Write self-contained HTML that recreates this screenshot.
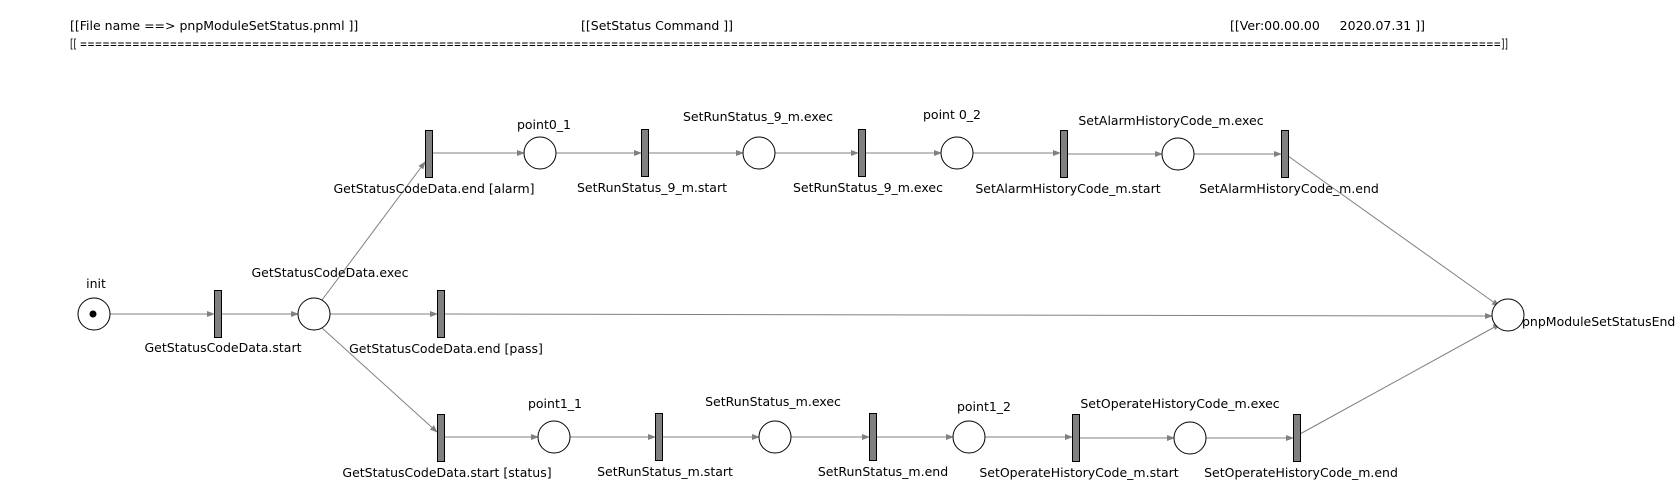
<!DOCTYPE html>
<html><head><meta charset="utf-8"><style>
html,body{margin:0;padding:0;background:#fff;}
svg{display:block;}
text{font-family:"DejaVu Sans","Liberation Sans",sans-serif;font-size:12.5px;fill:#000;}
</style></head><body>
<svg width="1680" height="488" viewBox="0 0 1680 488" xmlns="http://www.w3.org/2000/svg">
<defs><marker id="a" markerWidth="8" markerHeight="6" refX="7" refY="3" orient="auto" markerUnits="userSpaceOnUse"><path d="M0,0 L8,3 L0,6 z" fill="#808080"/></marker></defs>
<text x="70" y="30">[[File name ==&gt; pnpModuleSetStatus.pnml ]]</text>
<text x="581" y="30">[[SetStatus Command ]]</text>
<text x="1230" y="30" xml:space="preserve">[[Ver:00.00.00     2020.07.31 ]]</text>
<text x="70" y="48" textLength="1438" lengthAdjust="spacingAndGlyphs">[[ ==============================================================================================================================================================================================]]</text>
<g stroke="#808080" stroke-width="1" fill="none" marker-end="url(#a)">
<line x1="110" y1="314" x2="214" y2="314"/>
<line x1="221" y1="314" x2="298" y2="314"/>
<line x1="330" y1="314" x2="437" y2="314"/>
<line x1="444" y1="314" x2="1492" y2="316"/>
<line x1="322" y1="300" x2="425" y2="162"/>
<line x1="322" y1="328" x2="437" y2="432"/>
<line x1="432" y1="153" x2="524" y2="153"/>
<line x1="556" y1="153" x2="641" y2="153"/>
<line x1="648" y1="153" x2="743" y2="153"/>
<line x1="775" y1="153" x2="858" y2="153"/>
<line x1="865" y1="153" x2="941" y2="153"/>
<line x1="973" y1="153" x2="1060" y2="153"/>
<line x1="1067" y1="154" x2="1162" y2="154"/>
<line x1="1194" y1="154" x2="1281" y2="154"/>
<line x1="1288" y1="156" x2="1499" y2="306"/>
<line x1="444" y1="437" x2="538" y2="437"/>
<line x1="570" y1="437" x2="655" y2="437"/>
<line x1="662" y1="437" x2="759" y2="437"/>
<line x1="791" y1="437" x2="869" y2="437"/>
<line x1="876" y1="437" x2="953" y2="437"/>
<line x1="985" y1="437" x2="1072" y2="437"/>
<line x1="1079" y1="438" x2="1174" y2="438"/>
<line x1="1206" y1="438" x2="1293" y2="438"/>
<line x1="1300" y1="434" x2="1500" y2="324"/>
</g>
<g stroke="#000" stroke-width="1" fill="#fff">
<circle cx="94" cy="314" r="16"/>
<circle cx="314" cy="314" r="16"/>
<circle cx="540" cy="153" r="16"/>
<circle cx="759" cy="153" r="16"/>
<circle cx="957" cy="153" r="16"/>
<circle cx="1178" cy="154" r="16"/>
<circle cx="554" cy="437" r="16"/>
<circle cx="775" cy="437" r="16"/>
<circle cx="969" cy="437" r="16"/>
<circle cx="1190" cy="438" r="16"/>
<circle cx="1508" cy="315" r="16"/>
</g>
<circle cx="93" cy="314" r="3.5" fill="#000"/>
<g fill="#808080" stroke="#000" stroke-width="1">
<rect x="214.5" y="290.5" width="7" height="47"/>
<rect x="437.5" y="290.5" width="7" height="47"/>
<rect x="425.5" y="130.5" width="7" height="47"/>
<rect x="641.5" y="129.5" width="7" height="47"/>
<rect x="858.5" y="129.5" width="7" height="47"/>
<rect x="1060.5" y="130.5" width="7" height="47"/>
<rect x="1281.5" y="130.5" width="7" height="47"/>
<rect x="437.5" y="414.5" width="7" height="47"/>
<rect x="655.5" y="413.5" width="7" height="47"/>
<rect x="869.5" y="413.5" width="7" height="47"/>
<rect x="1072.5" y="414.5" width="7" height="47"/>
<rect x="1293.5" y="414.5" width="7" height="47"/>
</g>
<g text-anchor="middle">
<text x="96" y="288">init</text>
<text x="330" y="277">GetStatusCodeData.exec</text>
<text x="223" y="352">GetStatusCodeData.start</text>
<text x="446" y="353">GetStatusCodeData.end [pass]</text>
<text x="434" y="193">GetStatusCodeData.end [alarm]</text>
<text x="544" y="129">point0_1</text>
<text x="758" y="121">SetRunStatus_9_m.exec</text>
<text x="652" y="192">SetRunStatus_9_m.start</text>
<text x="868" y="192">SetRunStatus_9_m.exec</text>
<text x="952" y="119">point 0_2</text>
<text x="1171" y="125">SetAlarmHistoryCode_m.exec</text>
<text x="1068" y="193">SetAlarmHistoryCode_m.start</text>
<text x="1289" y="193">SetAlarmHistoryCode_m.end</text>
<text x="447" y="477">GetStatusCodeData.start [status]</text>
<text x="555" y="408">point1_1</text>
<text x="773" y="406">SetRunStatus_m.exec</text>
<text x="665" y="476">SetRunStatus_m.start</text>
<text x="883" y="476">SetRunStatus_m.end</text>
<text x="984" y="411">point1_2</text>
<text x="1180" y="408">SetOperateHistoryCode_m.exec</text>
<text x="1079" y="477">SetOperateHistoryCode_m.start</text>
<text x="1301" y="477">SetOperateHistoryCode_m.end</text>
</g>
<text x="1522" y="326">pnpModuleSetStatusEnd</text>
</svg>
</body></html>
